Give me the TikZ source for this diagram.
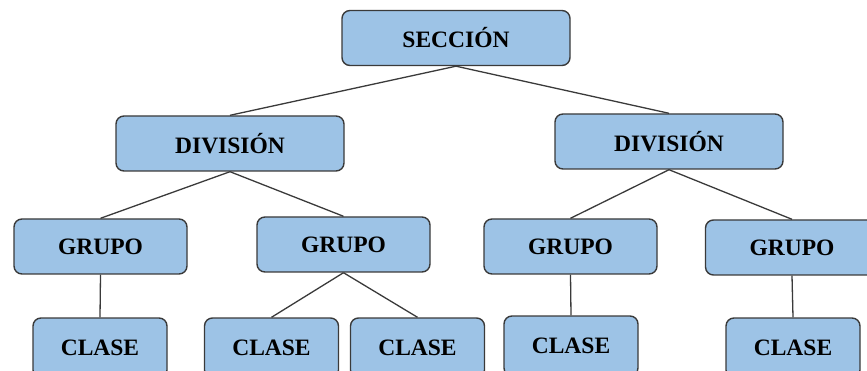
\documentclass[tikz,border=0pt]{standalone}
\usepackage{fontspec}
\setmainfont{Liberation Serif}
\usepackage{tikz}
\usetikzlibrary{positioning}
\definecolor{boxblue}{HTML}{9DC3E6}
\definecolor{boxline}{HTML}{3A3A3A}

\begin{document}
\begin{tikzpicture}[x=1pt,y=-1pt,
    caja/.style={draw=boxline,line width=1.4pt,fill=boxblue,rounded corners=8pt,
      inner sep=0pt,font=\fontsize{23.5}{28}\selectfont\bfseries},
    ancha/.style={caja,minimum width=228pt,minimum height=55pt},
    media/.style={caja,minimum width=173pt,minimum height=55pt},
    chica/.style={caja,minimum width=134pt,minimum height=60pt},
    rama/.style={draw=boxline,line width=1.3pt}]
  \useasboundingbox (0,0) rectangle (867,371);
  \clip (0,0) rectangle (867,371);
  % niveles
  \node[ancha] (sec) at (456,38) {SECCIÓN};
  \node[ancha] (divA) at (230,143.5) {DIVISIÓN};
  \node[ancha] (divB) at (669,141.5) {DIVISIÓN};
  \node[media] (grA) at (100.5,246.5) {GRUPO};
  \node[media] (grB) at (343.5,244.5) {GRUPO};
  \node[media] (grC) at (570.5,246.5) {GRUPO};
  \node[media] (grD) at (792,247.5) {GRUPO};
  \node[chica] (clA) at (100,348) {CLASE};
  \node[chica] (clB) at (271.5,348) {CLASE};
  \node[chica] (clC) at (417.5,348) {CLASE};
  \node[chica] (clD) at (571,346) {CLASE};
  \node[chica] (clE) at (793,348) {CLASE};
  % ramas
  \draw[rama] (sec.south) -- (divA.north);
  \draw[rama] (sec.south) -- (divB.north);
  \draw[rama] (divA.south) -- (grA.north);
  \draw[rama] (divA.south) -- (grB.north);
  \draw[rama] (divB.south) -- (grC.north);
  \draw[rama] (divB.south) -- (grD.north);
  \draw[rama] (grA.south) -- (clA.north);
  \draw[rama] (grB.south) -- (clB.north);
  \draw[rama] (grB.south) -- (clC.north);
  \draw[rama] (grC.south) -- (clD.north);
  \draw[rama] (grD.south) -- (clE.north);
\end{tikzpicture}
\end{document}
